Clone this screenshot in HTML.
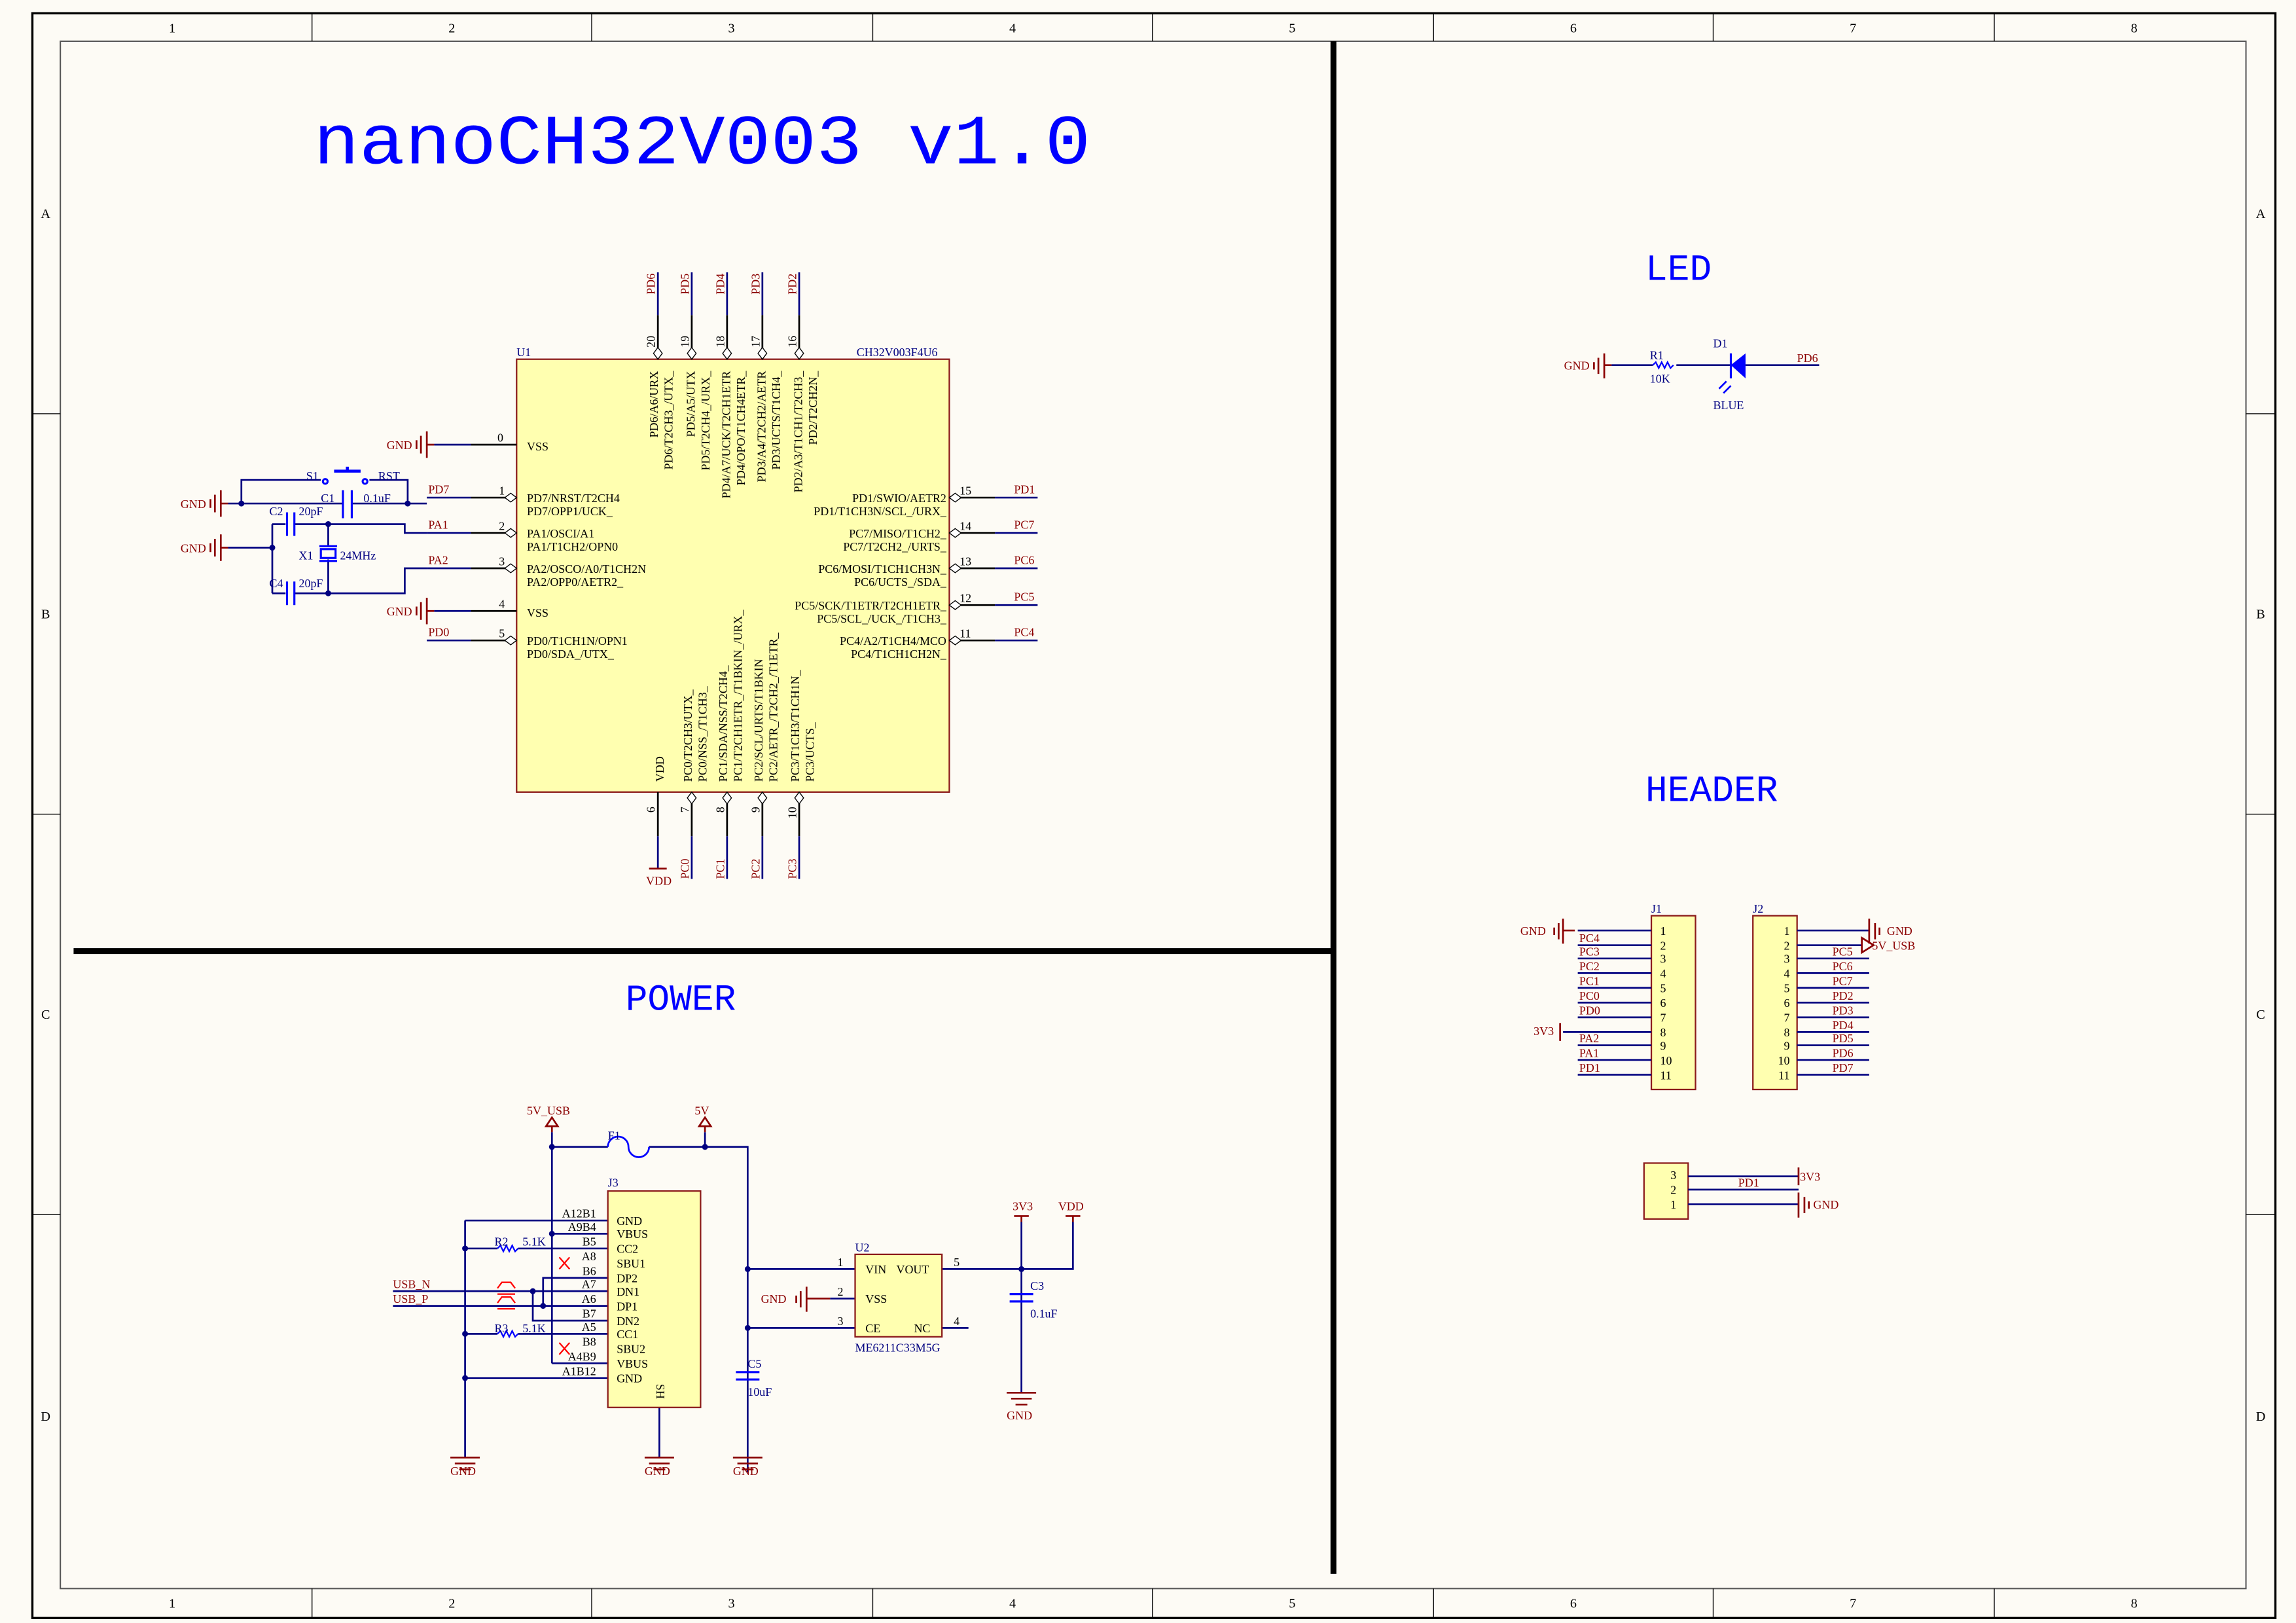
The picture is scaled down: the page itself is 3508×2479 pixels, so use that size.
<!DOCTYPE html>
<html><head><meta charset="utf-8"><style>
html,body{margin:0;padding:0;background:#fdfbf5;}
svg{display:block;}
text{font-family:"Liberation Serif",serif;}
.r{fill:#8b0000;} .b{fill:#000080;} .k{fill:#000;} .bl{fill:#0000ff;}
.w{stroke:#000080;stroke-width:1.2;fill:none;}
.p{stroke:#000;stroke-width:1.2;fill:none;}
.rs{stroke:#8b0000;stroke-width:1.2;fill:none;}
.c{stroke:#0000ff;stroke-width:1.4;fill:none;}
</style></head><body>
<svg width="3508" height="2479" viewBox="0 0 1560 1102.4" preserveAspectRatio="none" xmlns="http://www.w3.org/2000/svg">
<rect x="0" y="0" width="1560" height="1103" fill="#fdfbf5"/>
<rect x="22" y="9" width="1524" height="1090" fill="none" stroke="#000" stroke-width="1.5"/>
<rect x="41" y="28" width="1485" height="1051" fill="none" stroke="#555" stroke-width="0.9"/>
<g stroke="#000" stroke-width="0.6">
<line x1="212" y1="9" x2="212" y2="28"/><line x1="402" y1="9" x2="402" y2="28"/><line x1="593" y1="9" x2="593" y2="28"/><line x1="783" y1="9" x2="783" y2="28"/><line x1="974" y1="9" x2="974" y2="28"/><line x1="1164" y1="9" x2="1164" y2="28"/><line x1="1355" y1="9" x2="1355" y2="28"/>
<line x1="212" y1="1079" x2="212" y2="1099"/><line x1="402" y1="1079" x2="402" y2="1099"/><line x1="593" y1="1079" x2="593" y2="1099"/><line x1="783" y1="1079" x2="783" y2="1099"/><line x1="974" y1="1079" x2="974" y2="1099"/><line x1="1164" y1="1079" x2="1164" y2="1099"/><line x1="1355" y1="1079" x2="1355" y2="1099"/>
<line x1="22" y1="281" x2="41" y2="281"/><line x1="22" y1="553" x2="41" y2="553"/><line x1="22" y1="825" x2="41" y2="825"/>
<line x1="1526" y1="281" x2="1546" y2="281"/><line x1="1526" y1="553" x2="1546" y2="553"/><line x1="1526" y1="825" x2="1546" y2="825"/>
</g>
<g class="k" font-size="9" text-anchor="middle">
<text x="117" y="22">1</text><text x="307" y="22">2</text><text x="497" y="22">3</text><text x="688" y="22">4</text><text x="878" y="22">5</text><text x="1069" y="22">6</text><text x="1259" y="22">7</text><text x="1450" y="22">8</text>
<text x="117" y="1092">1</text><text x="307" y="1092">2</text><text x="497" y="1092">3</text><text x="688" y="1092">4</text><text x="878" y="1092">5</text><text x="1069" y="1092">6</text><text x="1259" y="1092">7</text><text x="1450" y="1092">8</text>
<text x="31" y="148">A</text><text x="31" y="420">B</text><text x="31" y="692">C</text><text x="31" y="965">D</text>
<text x="1536" y="148">A</text><text x="1536" y="420">B</text><text x="1536" y="692">C</text><text x="1536" y="965">D</text>
</g>
<line x1="906" y1="28" x2="906" y2="1069" stroke="#000" stroke-width="4"/>
<line x1="50" y1="646" x2="906" y2="646" stroke="#000" stroke-width="4"/>
<text x="213" y="111" class="bl" style="font-family:'Liberation Mono',monospace" font-size="48" textLength="528" lengthAdjust="spacingAndGlyphs">nanoCH32V003 v1.0</text>
<text x="1118" y="190" class="bl" style="font-family:'Liberation Mono',monospace" font-size="25">LED</text>
<text x="1118" y="544" class="bl" style="font-family:'Liberation Mono',monospace" font-size="25">HEADER</text>
<text x="425" y="686" class="bl" style="font-family:'Liberation Mono',monospace" font-size="25">POWER</text>

<rect x="351" y="244" width="294" height="294" fill="#ffffb0" stroke="#8b1a1a" stroke-width="1"/>
<text x="351" y="242" class="b" font-size="8">U1</text>
<text x="582" y="242" class="b" font-size="8">CH32V003F4U6</text>
<g class="p"><line x1="320" y1="302" x2="351" y2="302"/><line x1="320" y1="338" x2="351" y2="338"/><line x1="320" y1="362" x2="351" y2="362"/><line x1="320" y1="386" x2="351" y2="386"/><line x1="320" y1="415" x2="351" y2="415"/><line x1="320" y1="435" x2="351" y2="435"/>
<line x1="645" y1="338" x2="676" y2="338"/><line x1="645" y1="362" x2="676" y2="362"/><line x1="645" y1="386" x2="676" y2="386"/><line x1="645" y1="411" x2="676" y2="411"/><line x1="645" y1="435" x2="676" y2="435"/>
<line x1="447" y1="214" x2="447" y2="244"/><line x1="470" y1="214" x2="470" y2="244"/><line x1="494" y1="214" x2="494" y2="244"/><line x1="518" y1="214" x2="518" y2="244"/><line x1="543" y1="214" x2="543" y2="244"/>
<line x1="447" y1="538" x2="447" y2="568"/><line x1="470" y1="538" x2="470" y2="568"/><line x1="494" y1="538" x2="494" y2="568"/><line x1="518" y1="538" x2="518" y2="568"/><line x1="543" y1="538" x2="543" y2="568"/></g>
<g class="w"><line x1="295" y1="302" x2="320" y2="302"/><line x1="290" y1="338" x2="320" y2="338"/><line x1="290" y1="362" x2="320" y2="362"/><line x1="290" y1="386" x2="320" y2="386"/><line x1="295" y1="415" x2="320" y2="415"/><line x1="290" y1="435" x2="320" y2="435"/>
<line x1="676" y1="338" x2="705" y2="338"/><line x1="676" y1="362" x2="705" y2="362"/><line x1="676" y1="386" x2="705" y2="386"/><line x1="676" y1="411" x2="705" y2="411"/><line x1="676" y1="435" x2="705" y2="435"/>
<line x1="447" y1="185" x2="447" y2="214"/><line x1="470" y1="185" x2="470" y2="214"/><line x1="494" y1="185" x2="494" y2="214"/><line x1="518" y1="185" x2="518" y2="214"/><line x1="543" y1="185" x2="543" y2="214"/>
<line x1="447" y1="568" x2="447" y2="590"/><line x1="470" y1="568" x2="470" y2="597"/><line x1="494" y1="568" x2="494" y2="597"/><line x1="518" y1="568" x2="518" y2="597"/><line x1="543" y1="568" x2="543" y2="597"/></g>
<g stroke="#000" stroke-width="0.6" fill="#fff">
<path d="M351,338 l-4,-3 l-4,3 l4,3z"/><path d="M351,362 l-4,-3 l-4,3 l4,3z"/><path d="M351,386 l-4,-3 l-4,3 l4,3z"/><path d="M351,435 l-4,-3 l-4,3 l4,3z"/>
<path d="M645,338 l4,-3 l4,3 l-4,3z"/><path d="M645,362 l4,-3 l4,3 l-4,3z"/><path d="M645,386 l4,-3 l4,3 l-4,3z"/><path d="M645,411 l4,-3 l4,3 l-4,3z"/><path d="M645,435 l4,-3 l4,3 l-4,3z"/>
<path d="M447,244 l-3,-4 l3,-4 l3,4z"/><path d="M470,244 l-3,-4 l3,-4 l3,4z"/><path d="M494,244 l-3,-4 l3,-4 l3,4z"/><path d="M518,244 l-3,-4 l3,-4 l3,4z"/><path d="M543,244 l-3,-4 l3,-4 l3,4z"/>
<path d="M470,538 l-3,4 l3,4 l3,-4z"/><path d="M494,538 l-3,4 l3,4 l3,-4z"/><path d="M518,538 l-3,4 l3,4 l3,-4z"/><path d="M543,538 l-3,4 l3,4 l3,-4z"/>
</g>
<g class="k" font-size="8">
<text x="338" y="300">0</text><text x="339" y="336">1</text><text x="339" y="360">2</text><text x="339" y="384">3</text><text x="339" y="413">4</text><text x="339" y="433">5</text>
<text x="652" y="336">15</text><text x="652" y="360">14</text><text x="652" y="384">13</text><text x="652" y="409">12</text><text x="652" y="433">11</text>
<text transform="translate(445,236) rotate(-90)">20</text><text transform="translate(468,236) rotate(-90)">19</text><text transform="translate(492,236) rotate(-90)">18</text><text transform="translate(516,236) rotate(-90)">17</text><text transform="translate(541,236) rotate(-90)">16</text>
<text transform="translate(445,552) rotate(-90)">6</text><text transform="translate(468,552) rotate(-90)">7</text><text transform="translate(492,552) rotate(-90)">8</text><text transform="translate(516,552) rotate(-90)">9</text><text transform="translate(541,556) rotate(-90)">10</text>
</g>
<g class="k" font-size="8">
<text x="358" y="306">VSS</text>
<text x="358" y="341">PD7/NRST/T2CH4</text><text x="358" y="350">PD7/OPP1/UCK_</text>
<text x="358" y="365">PA1/OSCI/A1</text><text x="358" y="374">PA1/T1CH2/OPN0</text>
<text x="358" y="389">PA2/OSCO/A0/T1CH2N</text><text x="358" y="398">PA2/OPP0/AETR2_</text>
<text x="358" y="419">VSS</text>
<text x="358" y="438">PD0/T1CH1N/OPN1</text><text x="358" y="447">PD0/SDA_/UTX_</text>
</g>
<g class="k" font-size="8" text-anchor="end">
<text x="643" y="341">PD1/SWIO/AETR2</text><text x="643" y="350">PD1/T1CH3N/SCL_/URX_</text>
<text x="643" y="365">PC7/MISO/T1CH2_</text><text x="643" y="374">PC7/T2CH2_/URTS_</text>
<text x="643" y="389">PC6/MOSI/T1CH1CH3N_</text><text x="643" y="398">PC6/UCTS_/SDA_</text>
<text x="643" y="414">PC5/SCK/T1ETR/T2CH1ETR_</text><text x="643" y="423">PC5/SCL_/UCK_/T1CH3_</text>
<text x="643" y="438">PC4/A2/T1CH4/MCO</text><text x="643" y="447">PC4/T1CH1CH2N_</text>
</g>
<g class="k" font-size="8" text-anchor="end">
<text transform="translate(447,252) rotate(-90)">PD6/A6/URX</text><text transform="translate(457,252) rotate(-90)">PD6/T2CH3_/UTX_</text>
<text transform="translate(472,252) rotate(-90)">PD5/A5/UTX</text><text transform="translate(482,252) rotate(-90)">PD5/T2CH4_/URX_</text>
<text transform="translate(496,252) rotate(-90)">PD4/A7/UCK/T2CH1ETR</text><text transform="translate(506,252) rotate(-90)">PD4/OPO/T1CH4ETR_</text>
<text transform="translate(520,252) rotate(-90)">PD3/A4/T2CH2/AETR</text><text transform="translate(530,252) rotate(-90)">PD3/UCTS/T1CH4_</text>
<text transform="translate(545,252) rotate(-90)">PD2/A3/T1CH1/T2CH3_</text><text transform="translate(555,252) rotate(-90)">PD2/T2CH2N_</text>
</g>
<g class="k" font-size="8">
<text transform="translate(451,531) rotate(-90)">VDD</text>
<text transform="translate(470,531) rotate(-90)">PC0/T2CH3/UTX_</text><text transform="translate(480,531) rotate(-90)">PC0/NSS_/T1CH3_</text>
<text transform="translate(494,531) rotate(-90)">PC1/SDA/NSS/T2CH4_</text><text transform="translate(504,531) rotate(-90)">PC1/T2CH1ETR_/T1BKIN_/URX_</text>
<text transform="translate(518,531) rotate(-90)">PC2/SCL/URTS/T1BKIN</text><text transform="translate(528,531) rotate(-90)">PC2/AETR_/T2CH2_/T1ETR_</text>
<text transform="translate(543,531) rotate(-90)">PC3/T1CH3/T1CH1N_</text><text transform="translate(553,531) rotate(-90)">PC3/UCTS_</text>
</g>
<g class="r" font-size="8">
<text x="291" y="335">PD7</text><text x="291" y="359">PA1</text><text x="291" y="383">PA2</text><text x="291" y="432">PD0</text>
<text x="689" y="335">PD1</text><text x="689" y="359">PC7</text><text x="689" y="383">PC6</text><text x="689" y="408">PC5</text><text x="689" y="432">PC4</text>
<text transform="translate(445,200) rotate(-90)">PD6</text><text transform="translate(468,200) rotate(-90)">PD5</text><text transform="translate(492,200) rotate(-90)">PD4</text><text transform="translate(516,200) rotate(-90)">PD3</text><text transform="translate(541,200) rotate(-90)">PD2</text>
<text transform="translate(468,597) rotate(-90)">PC0</text><text transform="translate(492,597) rotate(-90)">PC1</text><text transform="translate(516,597) rotate(-90)">PC2</text><text transform="translate(541,597) rotate(-90)">PC3</text>
<text x="439" y="601">VDD</text>
</g>
<line x1="441" y1="590" x2="453" y2="590" class="rs"/>
<g class="rs">
<path d="M290,302 h5 M290,293 v18 M286,296 v12 M283,299 v6"/>
<path d="M290,415 h5 M290,406 v18 M286,409 v12 M283,412 v6"/>
<path d="M150,342 h5 M150,333 v18 M146,336 v12 M143,339 v6"/>
<path d="M150,372 h5 M150,363 v18 M146,366 v12 M143,369 v6"/>
</g>
<g class="r" font-size="8" text-anchor="end"><text x="280" y="305">GND</text><text x="280" y="418">GND</text><text x="140" y="345">GND</text><text x="140" y="375">GND</text></g>
<g class="w">
<path d="M155,342 H233 M239,342 H290"/>
<path d="M164,342 V326 H218"/><path d="M251,326 H277 V342"/>
<path d="M155,372 H185"/><path d="M185,356 V403"/>
<path d="M185,356 H194 M200,356 H275 V362 H290"/>
<path d="M185,403 H194 M200,403 H275 V386 H290"/>
<path d="M223,356 V371 M223,380 V403"/>
</g>
<g class="c"><line x1="233" y1="333" x2="233" y2="352"/><line x1="239" y1="333" x2="239" y2="352"/>
<line x1="195" y1="348" x2="195" y2="364"/><line x1="200" y1="348" x2="200" y2="364"/>
<line x1="195" y1="395" x2="195" y2="411"/><line x1="200" y1="395" x2="200" y2="411"/>
<rect x="218" y="373" width="10" height="6"/><line x1="217" y1="371" x2="229" y2="371"/><line x1="217" y1="381" x2="229" y2="381"/>
<circle cx="221" cy="327" r="1.6"/><circle cx="248" cy="327" r="1.6"/><line x1="227" y1="320" x2="245" y2="320" stroke-width="2"/><line x1="236" y1="317" x2="236" y2="320" stroke-width="2"/></g>
<g fill="#000080"><circle cx="164" cy="342" r="2"/><circle cx="277" cy="342" r="2"/><circle cx="185" cy="372" r="2"/><circle cx="223" cy="356" r="2"/><circle cx="223" cy="403" r="2"/></g>
<g class="b" font-size="8">
<text x="208" y="326">S1</text><text x="257" y="326">RST</text><text x="218" y="341">C1</text><text x="247" y="341">0.1uF</text>
<text x="183" y="350">C2</text><text x="203" y="350">20pF</text><text x="203" y="380">X1</text><text x="231" y="380">24MHz</text>
<text x="183" y="399">C4</text><text x="203" y="399">20pF</text>
</g>

<g class="rs"><path d="M1090,248 h5 M1090,240 v17 M1086,243 v11 M1083,246 v5"/></g>
<text x="1080" y="251" class="r" font-size="8" text-anchor="end">GND</text>
<path d="M1095,248 H1123 M1139,248 H1176 M1186,248 H1236" class="w"/>
<path d="M1123,248 l2,-2 l2,4 l2,-4 l2,4 l2,-4 l2,4 l2,-2" stroke="#0000ff" fill="none" stroke-width="1"/>
<path d="M1176,248 L1186,240 V257 Z" fill="#0000ff"/><line x1="1176" y1="240" x2="1176" y2="257" stroke="#0000ff" stroke-width="1.4"/>
<path d="M1173,259 l-5,5 M1176,262 l-5,5" stroke="#0000ff" stroke-width="1.2"/>
<g class="b" font-size="8"><text x="1121" y="244">R1</text><text x="1121" y="260">10K</text><text x="1164" y="236">D1</text><text x="1164" y="278">BLUE</text></g>
<text x="1221" y="246" class="r" font-size="8">PD6</text>

<rect x="1122" y="622" width="30" height="118" fill="#ffffb0" stroke="#8b1a1a"/>
<rect x="1191" y="622" width="30" height="118" fill="#ffffb0" stroke="#8b1a1a"/>
<text x="1122" y="620" class="b" font-size="8">J1</text><text x="1191" y="620" class="b" font-size="8">J2</text>
<g class="w">
<path d="M1072,632H1122 M1072,642H1122 M1072,651H1122 M1072,661H1122 M1072,671H1122 M1072,681H1122 M1072,691H1122 M1062,701H1122 M1072,710H1122 M1072,720H1122 M1072,730H1122"/>
<path d="M1221,632H1270 M1221,642H1265 M1221,651H1270 M1221,661H1270 M1221,671H1270 M1221,681H1270 M1221,691H1270 M1221,701H1270 M1221,710H1270 M1221,720H1270 M1221,730H1270"/>
</g>
<g class="rs"><path d="M1062,624 v17 M1059,627 v11 M1056,630 v5 M1062,632h8"/><path d="M1060,695 v12"/>
<path d="M1270,624 v17 M1274,627 v11 M1277,630 v5"/><path d="M1265,637 l8,5 l-8,5z"/></g>
<g class="k" font-size="8">
<text x="1128" y="635">1</text><text x="1128" y="645">2</text><text x="1128" y="654">3</text><text x="1128" y="664">4</text><text x="1128" y="674">5</text><text x="1128" y="684">6</text><text x="1128" y="694">7</text><text x="1128" y="704">8</text><text x="1128" y="713">9</text><text x="1128" y="723">10</text><text x="1128" y="733">11</text>
</g>
<g class="k" font-size="8" text-anchor="end">
<text x="1216" y="635">1</text><text x="1216" y="645">2</text><text x="1216" y="654">3</text><text x="1216" y="664">4</text><text x="1216" y="674">5</text><text x="1216" y="684">6</text><text x="1216" y="694">7</text><text x="1216" y="704">8</text><text x="1216" y="713">9</text><text x="1216" y="723">10</text><text x="1216" y="733">11</text>
</g>
<g class="r" font-size="8">
<text x="1033" y="635">GND</text><text x="1042" y="703">3V3</text>
<text x="1073" y="640">PC4</text><text x="1073" y="649">PC3</text><text x="1073" y="659">PC2</text><text x="1073" y="669">PC1</text><text x="1073" y="679">PC0</text><text x="1073" y="689">PD0</text>
<text x="1073" y="708">PA2</text><text x="1073" y="718">PA1</text><text x="1073" y="728">PD1</text>
<text x="1282" y="635">GND</text><text x="1272" y="645">5V_USB</text>
<text x="1245" y="649">PC5</text><text x="1245" y="659">PC6</text><text x="1245" y="669">PC7</text><text x="1245" y="679">PD2</text><text x="1245" y="689">PD3</text><text x="1245" y="699">PD4</text><text x="1245" y="708">PD5</text><text x="1245" y="718">PD6</text><text x="1245" y="728">PD7</text>
</g>
<rect x="1117" y="790" width="30" height="38" fill="#ffffb0" stroke="#8b1a1a"/>
<g class="k" font-size="8"><text x="1135" y="801">3</text><text x="1135" y="811">2</text><text x="1135" y="821">1</text></g>
<path d="M1147,799H1222 M1147,808H1222 M1147,818H1222" class="w"/>
<g class="rs"><path d="M1222,793v12"/><path d="M1222,810v17 M1226,813v11 M1229,816v5"/></g>
<g class="r" font-size="8"><text x="1223" y="802">3V3</text><text x="1181" y="806">PD1</text><text x="1232" y="821">GND</text></g>

<g class="w">
<path d="M375,769 V926"/><path d="M375,779 H413 M441,779 H508 V1000"/><path d="M479,769 V779"/>
<path d="M316,829 V990"/>
<path d="M316,829 H413 M316,848 H338 M352,848 H413 M316,906 H338 M352,906 H413 M316,936 H413 M375,838 H413 M375,926 H413"/>
<path d="M267,877 H413 M267,887 H413"/><path d="M362,877 V897 H413"/><path d="M369,887 V868 H413"/>
<path d="M448,956 V990"/>
<path d="M508,862 H581 M508,902 H581 M640,862 H729 V830 M694,830 V946"/>
<path d="M564,882 H581 M640,902 H658"/>
</g>
<path d="M413,779 a7,7 0 0 1 14,0 a7,7 0 0 0 14,0" stroke="#0000ff" stroke-width="1.2" fill="none"/>
<g fill="#000080"><circle cx="375" cy="779" r="2"/><circle cx="479" cy="779" r="2"/><circle cx="375" cy="838" r="2"/><circle cx="316" cy="848" r="2"/><circle cx="316" cy="906" r="2"/><circle cx="316" cy="936" r="2"/><circle cx="362" cy="877" r="2"/><circle cx="369" cy="887" r="2"/><circle cx="508" cy="862" r="2"/><circle cx="508" cy="902" r="2"/><circle cx="694" cy="862" r="2"/></g>
<g class="rs">
<path d="M375,769 v-4 m-4,0 l4,-6 l4,6z"/><path d="M479,769 v-4 m-4,0 l4,-6 l4,6z"/>
<path d="M729,830 v-4 m-5,0 h10"/><path d="M694,830 v-4 m-5,0 h10"/>
<path d="M306,990 h20 M309,994 h14 M312,998 h8"/>
<path d="M438,990 h20 M441,994 h14 M444,998 h8"/>
<path d="M498,990 h20 M501,994 h14 M504,998 h8"/>
<path d="M684,946 h20 M687,950 h14 M690,954 h8"/>
<path d="M548,882 h16 M548,874 v17 M544,877 v11 M541,880 v5"/>
</g>
<g stroke="#ff0000" stroke-width="1"><path d="M380,854 l7,8 M387,854 l-7,8"/><path d="M380,912 l7,8 M387,912 l-7,8"/>
<path d="M338,875 l3,-4 h6 l3,4 M338,879 h12 M338,885 l3,-4 h6 l3,4 M338,889 h12" fill="none"/></g>
<path d="M338,848 l2,-2 l2,4 l2,-4 l2,4 l2,-4 l2,4 l2,-2 M338,906 l2,-2 l2,4 l2,-4 l2,4 l2,-4 l2,4 l2,-2" stroke="#0000ff" fill="none" stroke-width="1"/>
<g class="c"><line x1="500" y1="932" x2="516" y2="932"/><line x1="500" y1="937" x2="516" y2="937"/><line x1="686" y1="879" x2="702" y2="879"/><line x1="686" y1="884" x2="702" y2="884"/></g>
<rect x="413" y="809" width="63" height="147" fill="#ffffb0" stroke="#8b1a1a"/>
<rect x="581" y="852" width="59" height="56" fill="#ffffb0" stroke="#8b1a1a"/>
<g class="k" font-size="8">
<text x="419" y="832">GND</text><text x="419" y="841">VBUS</text><text x="419" y="851">CC2</text><text x="419" y="861">SBU1</text><text x="419" y="871">DP2</text><text x="419" y="880">DN1</text><text x="419" y="890">DP1</text><text x="419" y="900">DN2</text><text x="419" y="909">CC1</text><text x="419" y="919">SBU2</text><text x="419" y="929">VBUS</text><text x="419" y="939">GND</text>
<text transform="translate(446,940) rotate(90)">SH</text>
<text x="588" y="865">VIN</text><text x="609" y="865">VOUT</text><text x="588" y="885">VSS</text><text x="588" y="905">CE</text><text x="621" y="905">NC</text>
<text x="569" y="860">1</text><text x="569" y="880">2</text><text x="569" y="900">3</text><text x="648" y="860">5</text><text x="648" y="900">4</text>
</g>
<g class="k" font-size="8" text-anchor="end">
<text x="405" y="827">A12B1</text><text x="405" y="836">A9B4</text><text x="405" y="846">B5</text><text x="405" y="856">A8</text><text x="405" y="866">B6</text><text x="405" y="875">A7</text><text x="405" y="885">A6</text><text x="405" y="895">B7</text><text x="405" y="904">A5</text><text x="405" y="914">B8</text><text x="405" y="924">A4B9</text><text x="405" y="934">A1B12</text>
</g>
<g class="b" font-size="8">
<text x="413" y="774">F1</text><text x="413" y="806">J3</text><text x="336" y="846">R2</text><text x="355" y="846">5.1K</text><text x="336" y="905">R3</text><text x="355" y="905">5.1K</text>
<text x="508" y="929">C5</text><text x="508" y="948">10uF</text><text x="581" y="850">U2</text><text x="581" y="918">ME6211C33M5G</text><text x="700" y="876">C3</text><text x="700" y="895">0.1uF</text>
</g>
<g class="r" font-size="8">
<text x="358" y="757">5V_USB</text><text x="472" y="757">5V</text><text x="267" y="875">USB_N</text><text x="267" y="885">USB_P</text>
<text x="517" y="885">GND</text><text x="688" y="822">3V3</text><text x="719" y="822">VDD</text>
<text x="306" y="1002">GND</text><text x="438" y="1002">GND</text><text x="498" y="1002">GND</text><text x="684" y="964">GND</text>
</g>
</svg>
</body></html>
